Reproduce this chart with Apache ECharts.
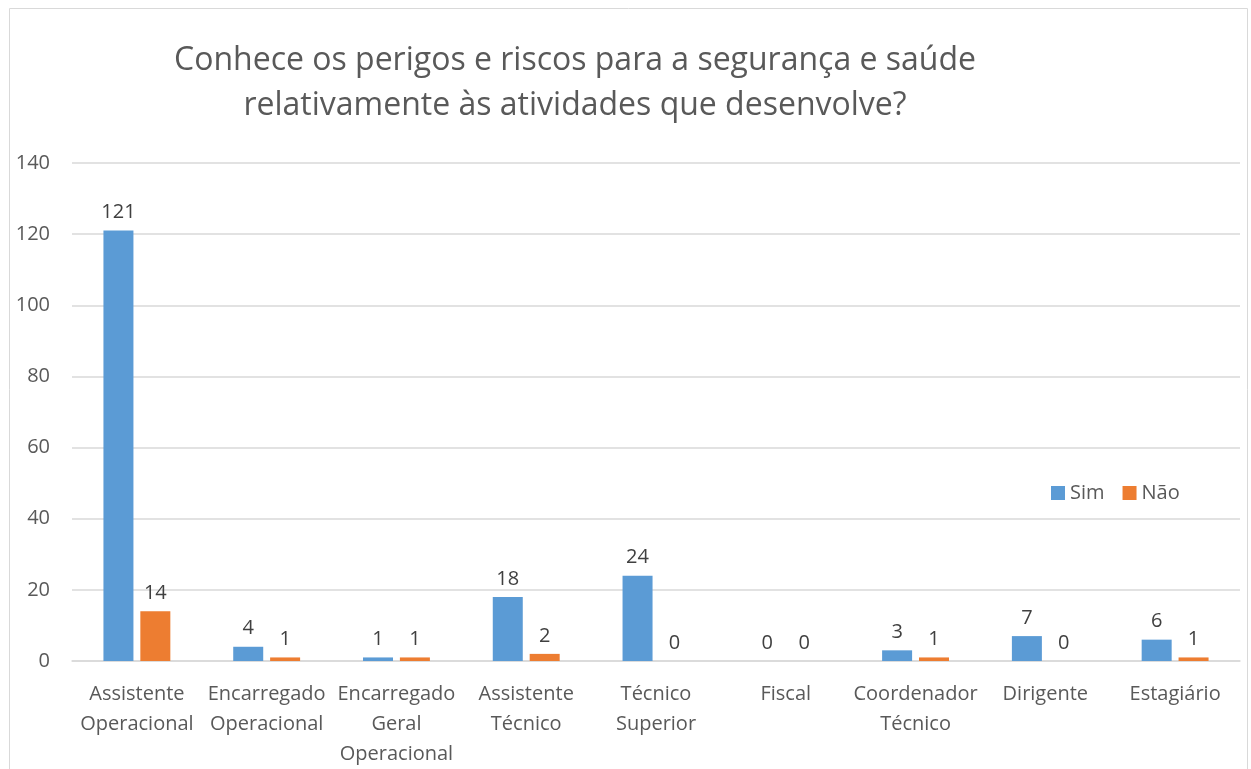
<!DOCTYPE html>
<html><head><meta charset="utf-8">
<script src="https://cdn.jsdelivr.net/npm/echarts@6/dist/echarts.min.js"></script>
<style>html,body{margin:0;padding:0;background:#fff;overflow:hidden}#c{width:1251px;height:769px}</style>
</head><body><div id="c"></div>
<script>
const categories = ["Assistente\nOperacional","Encarregado\nOperacional","Encarregado\nGeral\nOperacional","Assistente\nTécnico","Técnico\nSuperior","Fiscal","Coordenador\nTécnico","Dirigente","Estagiário"];
const sim = [121,4,1,18,24,0,3,7,6];
const nao = [14,1,1,2,0,0,1,0,1];
const yTicks = [0,20,40,60,80,100,120,140];
const titleText = "Conhece os perigos e riscos para a segurança e saúde\nrelativamente às atividades que desenvolve?";
const font = "'Open Sans', 'Noto Sans', sans-serif";
const chart = echarts.init(document.getElementById('c'));
const lbl = {show:true, position:'top', distance:8, color:'#404040', fontSize:20, fontFamily:font};
chart.setOption({
  animation:false,
  graphic:[{type:'rect', shape:{x:9.5,y:8.5,width:1238,height:780}, style:{fill:'none', stroke:'#d9d9d9', lineWidth:1}}],
  title:{text:titleText, left:570, top:33, textAlign:'center',
    textStyle:{color:'#595959', fontSize:32, fontWeight:'normal', fontFamily:font, lineHeight:45}},
  legend:{data:['Sim','Não'], left:1046, top:478, itemWidth:14, itemHeight:14, itemGap:18,
    icon:'rect', textStyle:{color:'#595959', fontSize:20, fontFamily:font}},
  grid:{left:72, right:11, top:163, bottom:100},
  xAxis:{type:'category', data:categories,
    axisLine:{lineStyle:{color:'#d9d9d9', width:1.5}}, axisTick:{show:false},
    axisLabel:{color:'#595959', fontSize:20, fontFamily:font, lineHeight:30, margin:18, interval:0}},
  yAxis:{type:'value', min:0, max:140, interval:20,
    axisLabel:{color:'#595959', fontSize:20, fontFamily:font, margin:22,
      formatter:v=>yTicks.includes(v)?String(v):''},
    splitLine:{lineStyle:{color:'#d9d9d9', width:1.5}}, axisLine:{show:false}, axisTick:{show:false}},
  series:[
    {name:'Sim', type:'bar', data:sim, barWidth:30, barGap:'23%', itemStyle:{color:'#5b9bd5'}, label:lbl},
    {name:'Não', type:'bar', data:nao, barWidth:30, itemStyle:{color:'#ed7d31'}, label:lbl}
  ]
});
</script></body></html>
